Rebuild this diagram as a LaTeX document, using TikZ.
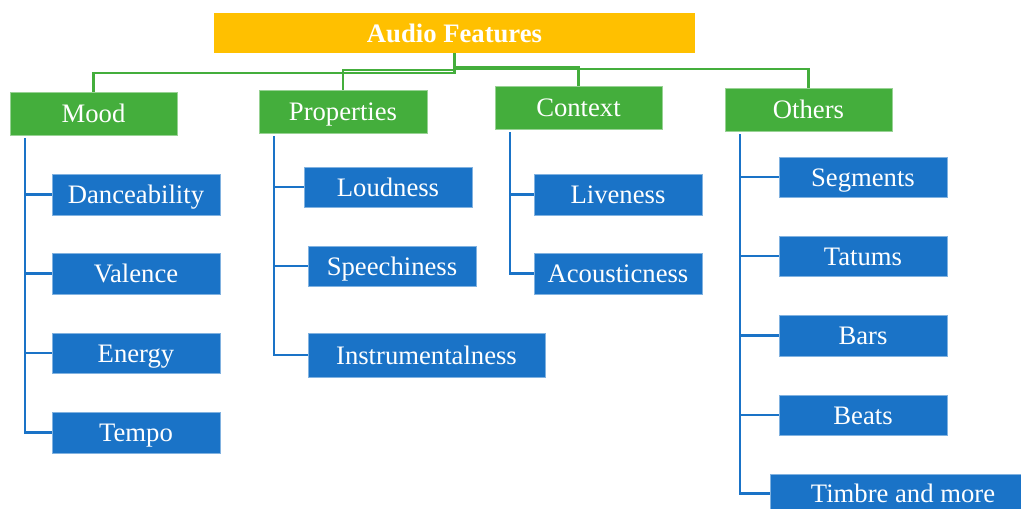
\documentclass[tikz,border=0pt]{standalone}
\usepackage{fontspec}
\setmainfont{Liberation Serif}
\definecolor{featyellow}{HTML}{FFC000}
\definecolor{featgreen}{HTML}{44AE3C}
\definecolor{featblue}{HTML}{1A73C7}
% box from corner (x1,y1) to (x2,y2), in pixel-like units with y pointing down
\newcommand\featbox[7]{%
  \node[#6, minimum width={(#4-#2)*0.75pt}, minimum height={(#5-#3)*0.75pt}]
    (#1) at ({(#2+#4)/2},{(#3+#5)/2}) {#7};}
\tikzset{
  base/.style={rectangle, inner sep=0pt, text=white, text height=14pt, text depth=0pt,
    font=\fontsize{20}{24}\selectfont},
  titlebox/.style={base, fill=featyellow, font=\fontsize{20}{24}\selectfont\bfseries},
  groupbox/.style={base, fill=featgreen, draw=featgreen!55!white, line width=0.6pt},
  leafbox/.style={base, fill=featblue, draw=featblue!55!white, line width=0.6pt},
  gline/.style={draw=featgreen, line width=1.6pt},
  bline/.style={draw=featblue, line width=2pt},
}
\begin{document}
\begin{tikzpicture}[x=0.75pt, y=-0.75pt]
\clip (0,0) rectangle (1021,509);
\fill[white] (0,0) rectangle (1021,509);

% root
\featbox{title}{214}{13}{695}{53}{titlebox}{Audio Features}

% groups
\featbox{mood}{10}{92}{177}{135}{groupbox}{Mood}
\featbox{props}{259}{90}{427}{133}{groupbox}{Properties}
\featbox{context}{495}{86}{662}{129}{groupbox}{Context}
\featbox{others}{725}{88}{892}{131}{groupbox}{Others}

% mood features
\featbox{dance}{52}{174}{220}{215}{leafbox}{Danceability}
\featbox{valence}{52}{253}{220}{294}{leafbox}{Valence}
\featbox{energy}{52}{333}{220}{373}{leafbox}{Energy}
\featbox{tempo}{52}{412}{220}{453}{leafbox}{Tempo}

% property features
\featbox{loud}{304}{167}{472}{207}{leafbox}{Loudness}
\featbox{speech}{308}{246}{476}{286}{leafbox}{Speechiness}
\featbox{instr}{308}{333}{545}{377}{leafbox}{Instrumentalness}

% context features
\featbox{live}{534}{174}{702}{215}{leafbox}{Liveness}
\featbox{acoustic}{534}{253}{702}{294}{leafbox}{Acousticness}

% other features
\featbox{segments}{779}{157}{947}{197}{leafbox}{Segments}
\featbox{tatums}{779}{236}{947}{276}{leafbox}{Tatums}
\featbox{bars}{779}{315}{947}{356}{leafbox}{Bars}
\featbox{beats}{779}{395}{947}{435}{leafbox}{Beats}
\featbox{timbre}{770}{474}{1036}{513}{leafbox}{Timbre and more}

% root to groups
\draw[gline] (title.south) -- ++(0,20) -| (mood.north);
\draw[gline] (title.south) -- ++(0,17) -| (props.north);
\draw[gline] (title.south) -- ++(0,14) -| (context.north);
\draw[gline] (title.south) -- ++(0,16) -| (others.north);

% groups to features
\foreach \g/\kids in {mood/{dance,valence,energy,tempo},
                      props/{loud,speech,instr},
                      context/{live,acoustic},
                      others/{segments,tatums,bars,beats,timbre}}{
  \foreach \k in \kids {
    \draw[bline] ([xshift=11.6pt,yshift=-2pt]\g.south west) |- (\k.west);
  }
}
\end{tikzpicture}
\end{document}
